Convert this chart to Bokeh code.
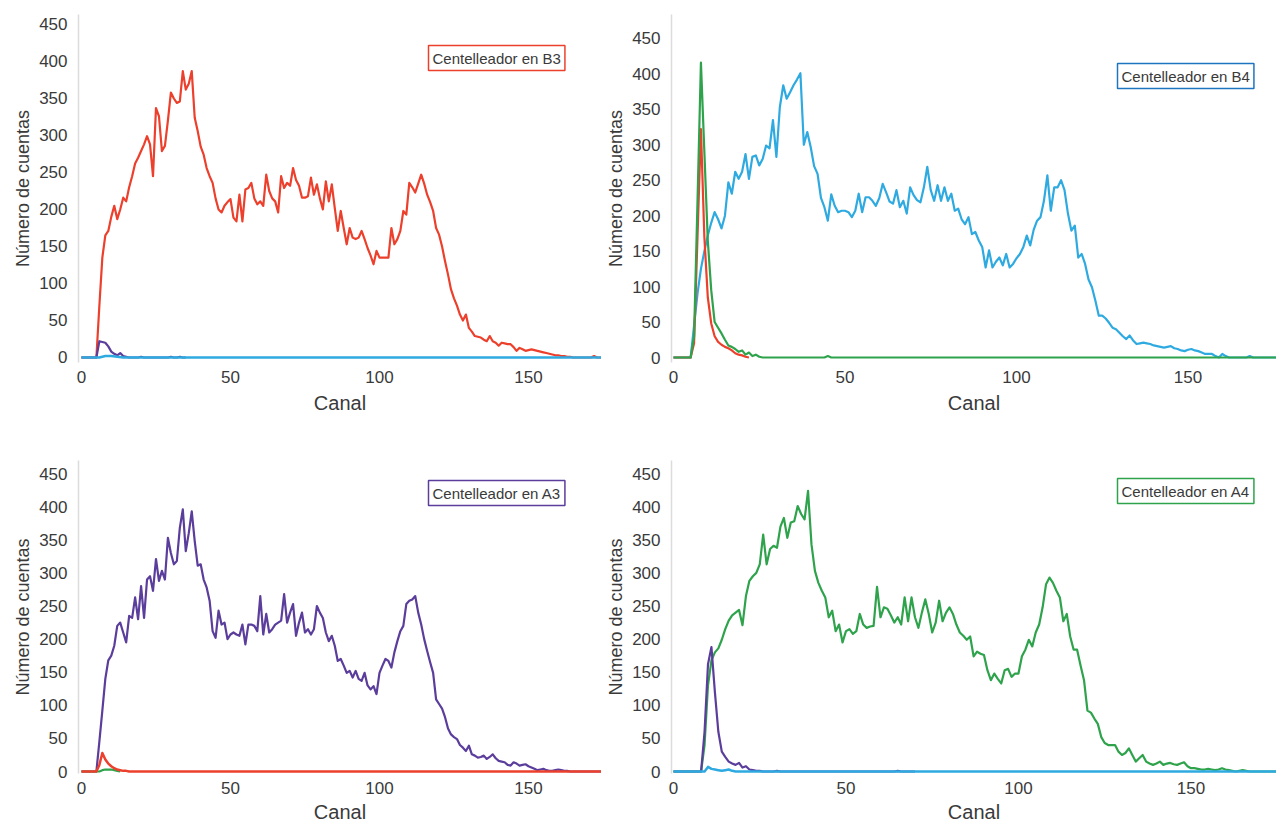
from bokeh.plotting import figure
from bokeh.layouts import column, row
from bokeh.models import FixedTicker, Label
from bokeh.embed import file_html
from bokeh.resources import INLINE

# ---------------- data ----------------
X_TICKS = [0, 50, 100, 150]
Y_TICKS = [0, 50, 100, 150, 200, 250, 300, 350, 400, 450]
X_TITLE = "Canal"
Y_TITLE = "Número de cuentas"

# Panel B3 (top left): counts per channel starting at channel 0
B3_ROJO = [0, 0, 0, 0, 0, 0, 70, 135, 165, 171, 190, 205, 187, 200, 216, 211, 230, 245, 262, 270,
           279, 288, 299, 288, 245, 337, 326, 279, 286, 320, 358, 350, 344, 346, 387, 362, 370, 387, 324, 306,
           285, 274, 256, 245, 236, 215, 200, 196, 205, 210, 214, 189, 184, 220, 184, 227, 229, 236, 215, 207,
           211, 205, 247, 225, 215, 211, 196, 245, 229, 236, 232, 256, 240, 232, 216, 216, 218, 243, 220, 234,
           215, 200, 238, 211, 234, 202, 171, 198, 175, 153, 175, 162, 160, 162, 171, 160, 148, 138, 126, 144,
           135, 135, 135, 135, 175, 153, 160, 171, 198, 193, 236, 230, 223, 235, 247, 235, 220, 210, 198, 175,
           166, 150, 130, 112, 92, 80, 70, 58, 50, 58, 40, 35, 29, 28, 27, 24, 22, 29, 22, 20,
           16, 20, 19, 18, 18, 14, 9, 13, 11, 9, 10, 11, 10, 9, 8, 7, 6, 5, 4, 3,
           3, 2, 2, 1, 1, 0, 0, 0, 0, 0, 0, 0, 2, 0, 0, 0, 0, 0, 0]
B3_MORADO_CANAL = [0, 5, 6, 7, 8, 9, 10, 11, 12, 13, 14, 15, 16, 19, 20, 21, 29, 30, 31, 32, 33, 34, 35]
B3_MORADO = [0, 0, 22, 21, 20, 15, 8, 5, 3, 6, 2, 1, 0, 0, 1, 0, 0, 1, 0, 0, 1, 0, 0]
B3_AZUL_CANAL = [0, 6, 8, 10, 12, 14, 178]
B3_AZUL = [0, 0, 2, 2, 1, 0, 0]

# Panel B4 (top right)
B4_AZUL = [0, 0, 0, 0, 0, 0, 45, 90, 125, 150, 172, 190, 205, 195, 182, 200, 247, 231, 262, 252,
           262, 287, 252, 283, 285, 271, 280, 299, 295, 335, 283, 353, 384, 365, 374, 384, 392, 401, 300, 318,
           297, 270, 259, 225, 212, 193, 230, 214, 205, 207, 207, 205, 198, 207, 231, 205, 226, 226, 221, 214,
           225, 245, 233, 220, 217, 236, 212, 221, 203, 240, 229, 222, 219, 240, 269, 236, 221, 243, 221, 240,
           221, 231, 207, 210, 195, 188, 198, 174, 177, 165, 156, 127, 151, 127, 135, 141, 130, 146, 127, 132,
           140, 146, 156, 172, 158, 180, 193, 198, 221, 257, 207, 240, 240, 250, 236, 203, 179, 186, 141, 146,
           132, 110, 99, 80, 59, 59, 55, 49, 42, 40, 35, 30, 26, 31, 24, 19, 20, 21, 20, 19,
           17, 16, 15, 14, 15, 16, 13, 12, 10, 9, 11, 12, 10, 9, 7, 5, 5, 5, 2, 0,
           5, 2, 0, 0, 0, 0, 0, 0, 2, 0, 0, 0, 0, 0, 0, 0, 0]
B4_ROJO_CANAL = [0, 5, 6, 7, 8, 9, 10, 11, 12, 13, 14, 15, 16, 17, 18, 19, 20, 21, 22]
B4_ROJO = [0, 0, 20, 170, 322, 170, 85, 48, 30, 22, 18, 15, 13, 10, 6, 4, 3, 1, 0]
B4_VERDE_CANAL = [0, 5, 6, 7, 8, 9, 10, 11, 12, 13, 14, 15, 16, 17, 18, 19, 20, 21, 22, 23, 24, 25,
                  26, 44, 45, 46, 176]
B4_VERDE = [0, 0, 30, 220, 416, 290, 165, 95, 50, 42, 34, 25, 17, 15, 12, 8, 10, 4, 7, 2, 4, 1,
            0, 0, 2, 0, 0]

# Panel A3 (bottom left)
A3_MORADO = [0, 0, 0, 0, 0, 0, 45, 92, 140, 168, 175, 190, 220, 225, 210, 195, 235, 232, 263, 230,
             280, 232, 290, 295, 273, 321, 288, 303, 290, 353, 330, 313, 318, 368, 396, 333, 360, 393, 348, 311,
             313, 290, 278, 258, 212, 202, 243, 222, 225, 200, 207, 210, 207, 205, 222, 192, 222, 222, 220, 212,
             265, 207, 238, 210, 215, 222, 225, 228, 268, 225, 240, 253, 205, 225, 240, 210, 215, 207, 215, 250,
             240, 232, 210, 197, 205, 190, 167, 170, 160, 149, 152, 142, 152, 140, 137, 149, 130, 124, 129, 117,
             149, 160, 170, 167, 157, 180, 197, 212, 220, 253, 258, 260, 265, 240, 222, 200, 182, 165, 149, 109,
             102, 95, 82, 65, 56, 52, 49, 40, 36, 31, 39, 26, 24, 21, 22, 24, 19, 22, 26, 20,
             16, 15, 14, 10, 9, 14, 12, 9, 10, 11, 8, 6, 4, 2, 3, 4, 2, 1, 1, 2,
             3, 2, 1, 1, 0, 0, 0, 0, 0, 0, 0, 0, 0, 0, 0, 0, 0, 0, 0]
A3_VERDE_CANAL = [0, 6, 7, 8, 10, 12, 13]
A3_VERDE = [0, 0, 2, 3, 3, 1, 0]
A3_ROJO_CANAL = [0, 5, 6, 7, 8, 9, 10, 11, 12, 13, 14, 15, 16, 178]
A3_ROJO = [0, 0, 10, 28, 18, 12, 8, 5, 3, 2, 1, 1, 0, 0]

# Panel A4 (bottom right)
A4_VERDE = [0, 0, 0, 0, 0, 0, 0, 0, 0, 40, 130, 168, 180, 186, 199, 215, 228, 236, 240, 244,
            221, 265, 288, 295, 300, 313, 358, 313, 336, 341, 338, 370, 383, 353, 376, 378, 401, 389, 381, 424,
            343, 303, 285, 273, 263, 233, 243, 212, 222, 195, 212, 215, 208, 212, 238, 222, 217, 219, 220, 279,
            233, 248, 246, 236, 225, 233, 222, 263, 227, 263, 233, 217, 240, 260, 238, 210, 225, 258, 227, 240,
            248, 238, 222, 210, 205, 199, 204, 174, 181, 178, 176, 153, 138, 148, 140, 133, 153, 155, 143, 148,
            148, 174, 184, 199, 189, 210, 222, 248, 283, 293, 285, 273, 263, 227, 238, 204, 184, 184, 160, 138,
            92, 89, 80, 72, 52, 43, 40, 40, 40, 30, 25, 28, 35, 25, 15, 20, 25, 15, 12, 10,
            12, 15, 10, 12, 13, 11, 10, 12, 14, 8, 5, 5, 4, 3, 3, 4, 3, 2, 3, 5,
            3, 2, 1, 0, 1, 2, 1, 0, 0, 0, 0, 0, 0, 0, 0, 0]
A4_MORADO_CANAL = [0, 8, 9, 10, 11, 12, 13, 14, 15, 16, 17, 18, 19, 20, 21, 22, 23, 24, 25, 26,
                   29, 30, 31, 64, 65, 66, 70]
A4_MORADO = [0, 0, 60, 162, 188, 120, 60, 30, 22, 15, 12, 10, 13, 6, 8, 3, 2, 1, 1, 0,
             0, 1, 0, 0, 1, 0, 0]
A4_AZUL_CANAL = [0, 9, 10, 11, 12, 13, 14, 15, 16, 17, 18, 176]
A4_AZUL = [0, 0, 7, 4, 3, 2, 1, 2, 3, 1, 0, 0]

# ---------------- styling ----------------
ROJO = "#EC402C"
AZUL = "#2EAAE1"
MORADO = "#5B3D9C"
VERDE = "#2EA34C"
TXT = "#3a3a3a"
FONT = "Liberation Sans"


def canales(valores, inicio=0):
    return list(range(inicio, inicio + len(valores)))


def panel(xr, yr, fw, fh, bl, br, bt, bb, xstand, series, leyenda, color_ley, ley_x, ley_y):
    p = figure(frame_width=fw, frame_height=fh, x_range=xr, y_range=yr,
               output_backend="svg", toolbar_location=None,
               min_border_left=bl, min_border_right=br, min_border_top=bt, min_border_bottom=bb,
               background_fill_color="white", border_fill_color="white")
    p.outline_line_color = None
    p.grid.visible = False
    p.xaxis.ticker = FixedTicker(ticks=X_TICKS)
    p.yaxis.ticker = FixedTicker(ticks=Y_TICKS)
    for ax in (p.xaxis[0], p.yaxis[0]):
        ax.major_tick_line_color = None
        ax.minor_tick_line_color = None
        ax.major_tick_out = 0
        ax.major_tick_in = 0
        ax.minor_tick_out = 0
        ax.minor_tick_in = 0
        ax.major_label_text_font = FONT
        ax.major_label_text_font_size = "17px"
        ax.major_label_text_color = TXT
        ax.axis_label_text_font = FONT
        ax.axis_label_text_font_size = "18px"
        ax.axis_label_text_font_style = "normal"
        ax.axis_label_text_color = TXT
    p.xaxis.axis_line_color = None
    p.xaxis.major_label_standoff = 8
    p.xaxis.axis_label = X_TITLE
    p.xaxis.axis_label_standoff = xstand
    p.xaxis.axis_label_text_font_size = "20px"
    p.yaxis.axis_line_color = "#dcdcdc"
    p.yaxis.axis_line_width = 1.5
    p.yaxis.major_label_standoff = 11
    p.yaxis.axis_label = Y_TITLE
    p.yaxis.axis_label_standoff = 3
    for xs, ys, col, lw in series:
        p.line(xs, ys, line_color=col, line_width=lw, line_join="round")
    p.add_layout(Label(x=ley_x, y=ley_y, x_units="screen", y_units="screen", text=leyenda,
                       anchor="top_left", text_font=FONT, text_font_size="15px", text_color=TXT,
                       border_line_color=color_ley, border_line_width=1.5,
                       background_fill_color="white", padding=4))
    return p


p1 = panel((-1.0, 174.5), (-6.76, 463.5), 523, 348, 78, 0, 14, 54, 6,
           [(canales(B3_ROJO), B3_ROJO, ROJO, 2.2),
            (B3_MORADO_CANAL, B3_MORADO, MORADO, 2.2),
            (B3_AZUL_CANAL, B3_AZUL, AZUL, 2.5)],
           "Centelleador en B3", ROJO, 350, 317)

p2 = panel((-0.58, 175.8), (-7.05, 483.8), 605, 348, 70, 0, 14, 54, 6,
           [(canales(B4_AZUL), B4_AZUL, AZUL, 2.2),
            (B4_ROJO_CANAL, B4_ROJO, ROJO, 2.2),
            (B4_VERDE_CANAL, B4_VERDE, VERDE, 2.2)],
           "Centelleador en B4", "#1F74C0", 446, 299)

p3 = panel((-1.0, 174.5), (-3.0, 469.8), 523, 313, 78, 0, 44, 54, 4,
           [(canales(A3_MORADO), A3_MORADO, MORADO, 2.2),
            (A3_VERDE_CANAL, A3_VERDE, VERDE, 2.2),
            (A3_ROJO_CANAL, A3_ROJO, ROJO, 2.5)],
           "Centelleador en A3", MORADO, 350, 293)

p4 = panel((-0.58, 174.8), (-3.0, 469.8), 605, 313, 70, 0, 44, 54, 4,
           [(canales(A4_VERDE), A4_VERDE, VERDE, 2.2),
            (A4_MORADO_CANAL, A4_MORADO, MORADO, 2.2),
            (A4_AZUL_CANAL, A4_AZUL, AZUL, 2.5)],
           "Centelleador en A4", VERDE, 446, 295)

layout = column(row(p1, p2), row(p3, p4))
open("out.html", "w").write(file_html(layout, INLINE))
